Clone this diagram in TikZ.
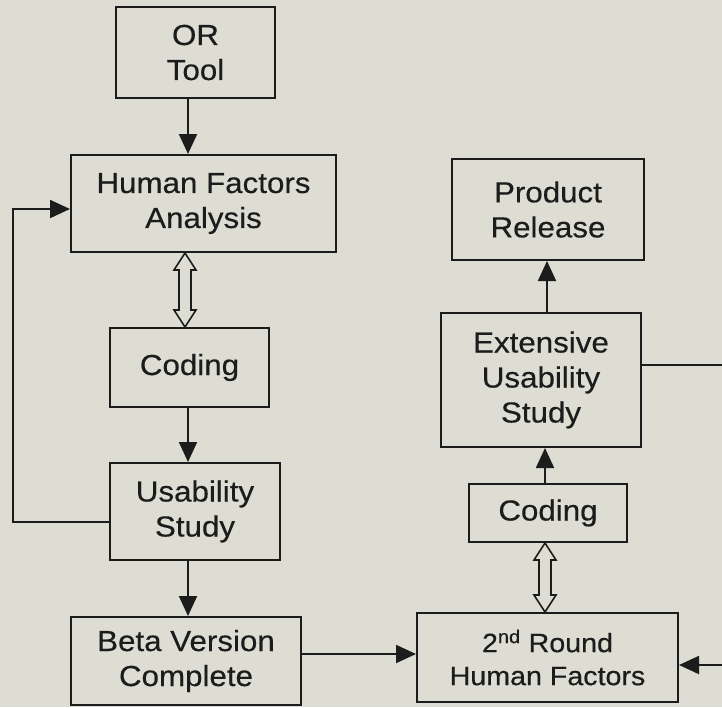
\documentclass[tikz,border=0pt]{standalone}
\usepackage{fontspec}
\setmainfont{Liberation Sans}[FakeStretch=1.08,FakeBold=0.4]
\usetikzlibrary{arrows.meta,calc}
\definecolor{bgc}{RGB}{221,221,211}
\definecolor{ink}{RGB}{28,28,28}
\tikzset{
  box/.style={draw=ink, line width=2pt, fill=bgc, text=ink, align=center, inner sep=0pt,
    font=\fontsize{29}{35}\selectfont},
  arr/.style={draw=ink, line width=1.9pt, -{Triangle[length=20pt,width=18pt]}},
  conn/.style={draw=ink, line width=1.9pt},
  hollow/.style={draw=ink, line width=1.6pt, fill=bgc, line join=miter}
}
\begin{document}
\begin{tikzpicture}[x=1pt,y=-1pt]
\fill[bgc] (0,0) rectangle (722,707);
\useasboundingbox (0,0) rectangle (722,707);
% left column
\node[box, minimum width=159pt, minimum height=91pt] (OR) at (195.5,52.5) {OR\\Tool};
\node[box, minimum width=265pt, minimum height=97pt] (HFA) at (203.5,203.5) {Human Factors\\Analysis};
\node[box, minimum width=159pt, minimum height=79pt] (C1) at (189.5,367.5) {Coding};
\node[box, minimum width=170pt, minimum height=97pt] (US) at (195,511.5) {Usability\\Study};
\node[box, minimum width=230pt, minimum height=88pt] (BV) at (186,661) {Beta Version\\Complete};
% right column
\node[box, minimum width=192pt, minimum height=101pt] (PR) at (548,209.5) {Product\\Release};
\node[box, minimum width=200pt, minimum height=134pt] (EUS) at (541,380) {Extensive\\Usability\\Study};
\node[box, minimum width=158pt, minimum height=58pt] (C2) at (548,513) {Coding};
\node[box, minimum width=261pt, minimum height=89pt, font=\fontsize{26.5}{33}\selectfont] (R2) at (547.5,657.5) {2\textsuperscript{nd} Round\\Human Factors};
% helper coordinates
\coordinate (xl) at (188,0);
\coordinate (xh) at (185,0);
\coordinate (xr) at (545,0);
\coordinate (xp) at (547,0);
\coordinate (fbA) at (13,522);
\coordinate (fbB) at (13,209);
\coordinate (yUS) at (0,522);
\coordinate (yHF) at (0,209);
\coordinate (yBV) at (0,654);
\coordinate (e1) at (722,365);
\coordinate (e2) at (722,665);
% arrows left
\draw[arr] (OR.south -| xl) -- (HFA.north -| xl);
\draw[arr] (C1.south -| xl) -- (US.north -| xl);
\draw[arr] (US.south -| xl) -- (BV.north -| xl);
\draw[arr] (US.west |- yUS) -- (fbA) -- (fbB) -- (HFA.west |- yHF);
% hollow double arrow left
\draw[hollow] (HFA.south -| xh) -- ++(11,17) -- ++(-5,0) -- ($(C1.north -| xh)+(6,-17)$) -- ++(5,0)
  -- (C1.north -| xh) -- ++(-11,-17) -- ++(5,0) -- ($(HFA.south -| xh)+(-6,17)$) -- ++(-5,0) -- cycle;
% across
\draw[arr] (BV.east |- yBV) -- (R2.west |- yBV);
\draw[arr] (e2) -- (R2.east |- e2);
\draw[conn] (EUS.east |- e1) -- (e1);
% arrows right
\draw[arr] (C2.north -| xr) -- (EUS.south -| xr);
\draw[arr] (EUS.north -| xp) -- (PR.south -| xp);
% hollow double arrow right
\draw[hollow] (C2.south -| xr) -- ++(11,17) -- ++(-5,0) -- ($(R2.north -| xr)+(6,-17)$) -- ++(5,0)
  -- (R2.north -| xr) -- ++(-11,-17) -- ++(5,0) -- ($(C2.south -| xr)+(-6,17)$) -- ++(-5,0) -- cycle;
\end{tikzpicture}
\end{document}
